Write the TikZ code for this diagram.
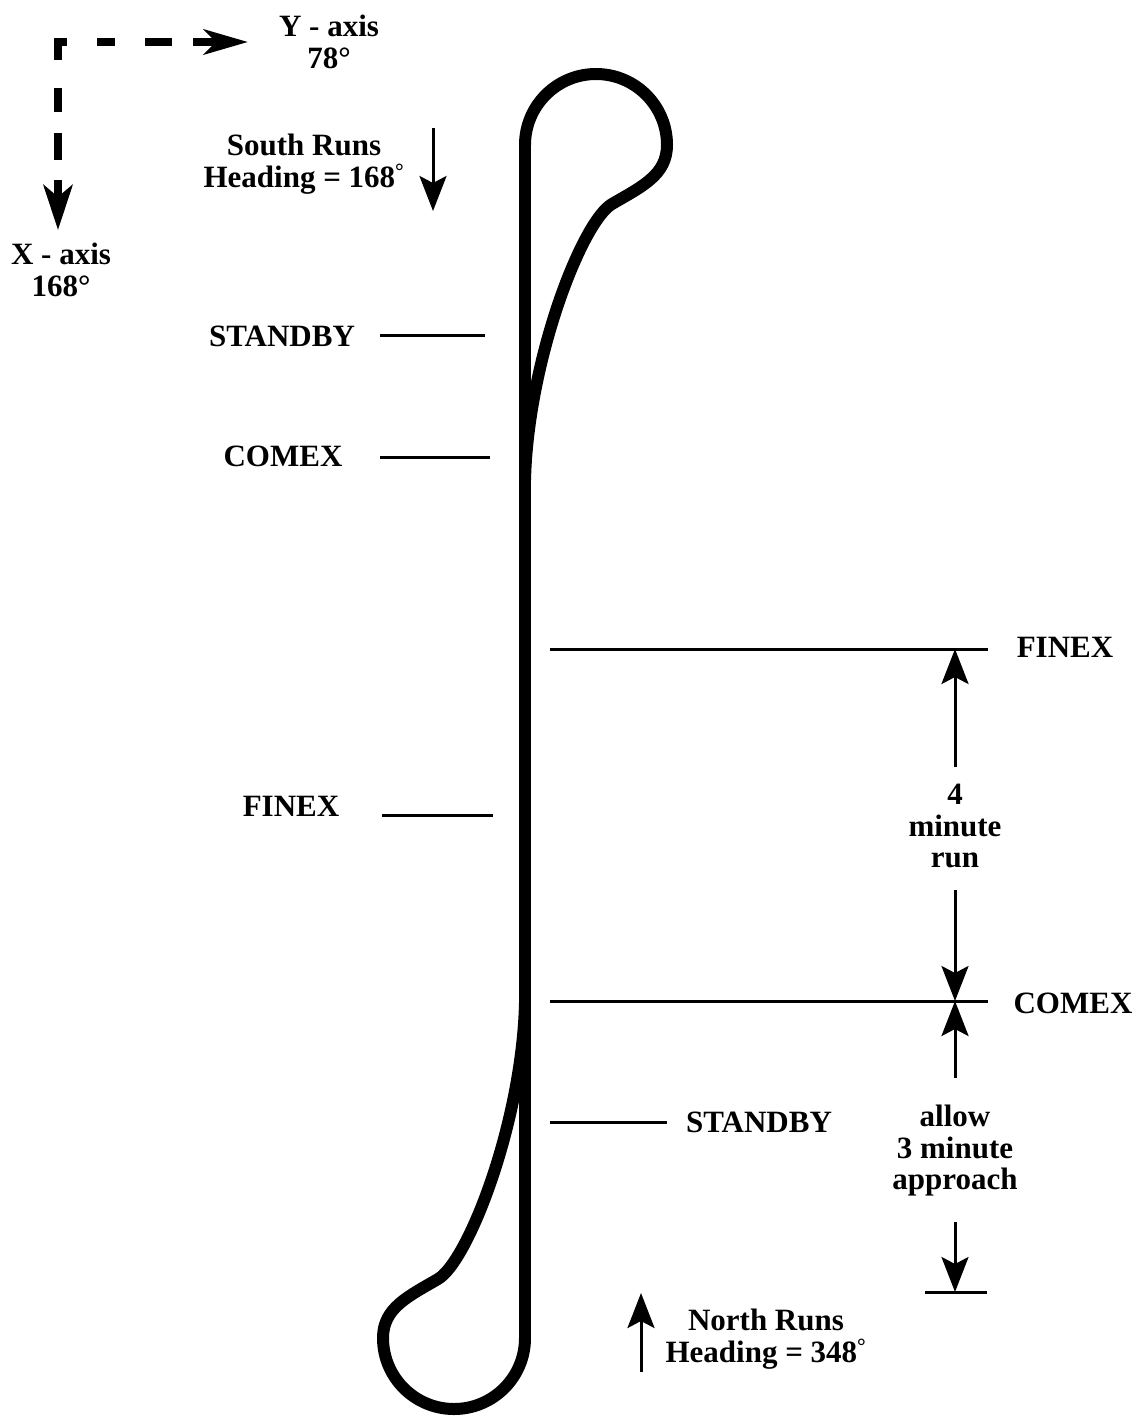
\documentclass[tikz,border=0pt]{standalone}
\usepackage{fontspec}
\setmainfont{Liberation Serif}
\usetikzlibrary{arrows.meta}
\tikzset{
  track/.style={line width=12pt, line join=round},
  markline/.style={line width=3pt},
  dimarrow/.style={line width=3pt, -{Stealth[length=35pt,width=27pt,inset=7pt]}},
  axisdash/.style={line width=7.5pt},
  axisarrowh/.style={line width=7.5pt, -{Stealth[length=44pt,width=25pt,inset=12pt]}},
  axisarrowv/.style={line width=7.5pt, -{Stealth[length=45pt,width=29pt,inset=12pt]}},
  lbl/.style={font=\bfseries\fontsize{31}{31.5}\selectfont, inner sep=0pt, align=center}
}
\begin{document}
\begin{tikzpicture}[x=1pt,y=-1pt]
\useasboundingbox (0,0) rectangle (1137,1418);

% track
\coordinate (topc) at (525,145);
\coordinate (botc) at (525,1338);
\coordinate (topmerge) at (525,480);
\coordinate (botmerge) at (525,1003);
\draw[track] (topc) -- (botc);
\draw[track] (topc) arc[start angle=180,end angle=360,radius=71]
  .. controls (667,175) and (642,186.5) .. (612,204)
  .. controls (582,221.5) and (528,360) .. (topmerge);
\draw[track] (botc) arc[start angle=0,end angle=180,radius=71]
  .. controls (383,1308) and (408,1296.5) .. (438,1279)
  .. controls (468,1261.5) and (522,1123) .. (botmerge);

% axes
\draw[axisdash] (58,60) -- (58,42) -- (67,42);
\draw[axisdash] (97,42) -- (115,42);
\draw[axisdash] (145,42) -- (172,42);
\coordinate (yax0) at (193,42);
\coordinate (yax1) at (248,42);
\draw[axisarrowh] (yax0) -- (yax1);
\draw[axisdash] (58,88) -- (58,112);
\draw[axisdash] (58,133) -- (58,160);
\coordinate (xax0) at (58,180);
\coordinate (xax1) at (58,230);
\draw[axisarrowv] (xax0) -- (xax1);
\node[lbl, anchor=north] (ylab) at (329,15) {Y - axis\\78°};
\node[lbl, anchor=north] (xlab) at (61,243) {X - axis\\168°};

% headings
\node[lbl, anchor=north] (south) at (304,134) {South Runs\\Heading = 168\textsuperscript{°}};
\coordinate (s0) at (433,128);
\coordinate (s1) at (433,211);
\draw[dimarrow] (s0) -- (s1);
\node[lbl, anchor=north] (north) at (766,1309) {North Runs\\Heading = 348\textsuperscript{°}};
\coordinate (n0) at (641,1372);
\coordinate (n1) at (641,1293);
\draw[dimarrow] (n0) -- (n1);

% left labels
\node[lbl] (lstby) at (282,336) {STANDBY};
\coordinate (lstbyA) at (380,335); \coordinate (lstbyB) at (485,335);
\draw[markline] (lstbyA) -- (lstbyB);
\node[lbl] (lcomex) at (283,456) {COMEX};
\coordinate (lcomexA) at (380,457); \coordinate (lcomexB) at (490,457);
\draw[markline] (lcomexA) -- (lcomexB);
\node[lbl] (lfinex) at (291,806) {FINEX};
\coordinate (lfinexA) at (382,815); \coordinate (lfinexB) at (493,815);
\draw[markline] (lfinexA) -- (lfinexB);

% right labels
\coordinate (rfinexA) at (550,649); \coordinate (rfinexB) at (988,649);
\draw[markline] (rfinexA) -- (rfinexB);
\node[lbl] (rfinex) at (1065,647) {FINEX};
\coordinate (rcomexA) at (550,1001); \coordinate (rcomexB) at (988,1001);
\draw[markline] (rcomexA) -- (rcomexB);
\node[lbl] (rcomex) at (1073,1003) {COMEX};
\coordinate (rstbyA) at (550,1122); \coordinate (rstbyB) at (667,1122);
\draw[markline] (rstbyA) -- (rstbyB);
\node[lbl] (rstby) at (759,1122) {STANDBY};
\coordinate (tickA) at (925,1292); \coordinate (tickB) at (987,1292);
\draw[markline] (tickA) -- (tickB);

% dimension arrows
\node[lbl, anchor=north] (run) at (955,784) {4\\minute\\run};
\node[lbl, anchor=north] (appr) at (955,1105) {allow\\3 minute\\approach};
\coordinate (finexP) at (955,649);
\coordinate (comexP) at (955,1001);
\coordinate (endP) at (955,1292);
\coordinate (d1) at (955,767);
\coordinate (d2) at (955,890);
\coordinate (d3) at (955,1078);
\coordinate (d4) at (955,1222);
\draw[dimarrow] (d1) -- (finexP);
\draw[dimarrow] (d2) -- (comexP);
\draw[dimarrow] (d3) -- (comexP);
\draw[dimarrow] (d4) -- (endP);
\end{tikzpicture}
\end{document}
